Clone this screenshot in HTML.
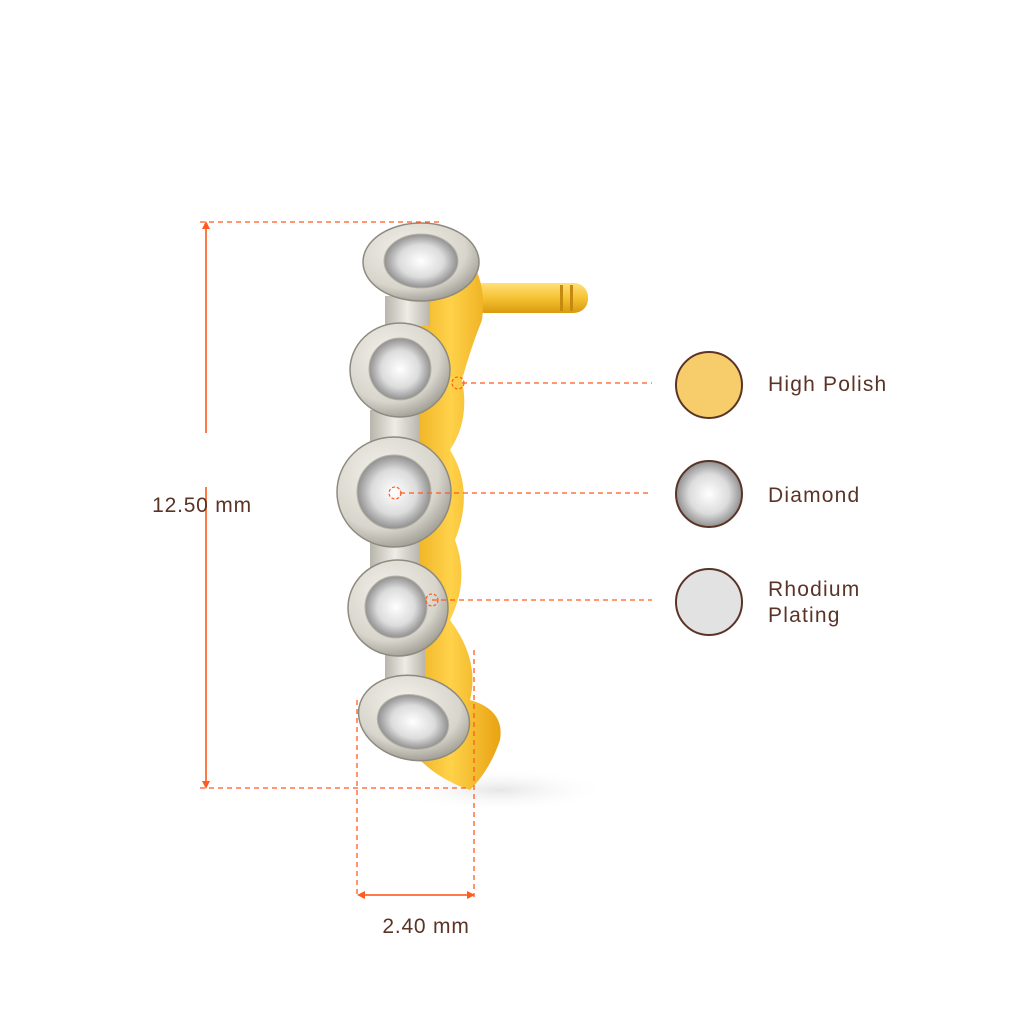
<!DOCTYPE html>
<html><head><meta charset="utf-8"><style>
html,body{margin:0;padding:0;background:#fff;}
svg{display:block;}
text{font-family:"Liberation Sans",sans-serif;fill:#5a3426;}
</style></head><body>
<svg width="1024" height="1024" viewBox="0 0 1024 1024" xmlns="http://www.w3.org/2000/svg">
<defs>
<linearGradient id="gold" x1="0" y1="0" x2="1" y2="0">
<stop offset="0" stop-color="#e9a514"/><stop offset="0.5" stop-color="#ffd24a"/><stop offset="1" stop-color="#e8a312"/></linearGradient>
<linearGradient id="post" x1="0" y1="0" x2="0" y2="1">
<stop offset="0" stop-color="#ffe07a"/><stop offset="0.5" stop-color="#f5c233"/><stop offset="1" stop-color="#d99a10"/></linearGradient>
<radialGradient id="metal" cx="0.4" cy="0.35" r="0.7">
<stop offset="0" stop-color="#f4f2ec"/><stop offset="0.7" stop-color="#d8d5cc"/><stop offset="1" stop-color="#9a978e"/></radialGradient>
<radialGradient id="dia" cx="0.5" cy="0.5" r="0.55">
<stop offset="0" stop-color="#ffffff"/><stop offset="0.55" stop-color="#dcdcdc"/><stop offset="1" stop-color="#7c7c7c"/></radialGradient>
<radialGradient id="ground" cx="0.5" cy="0.5" r="0.5">
<stop offset="0" stop-color="#e6e6e6"/><stop offset="1" stop-color="#ffffff" stop-opacity="0"/></radialGradient>
<linearGradient id="link" x1="0" y1="0" x2="1" y2="0">
<stop offset="0" stop-color="#b8b5ac"/><stop offset="0.5" stop-color="#eeece6"/><stop offset="1" stop-color="#b8b5ac"/></linearGradient>
</defs>
<ellipse cx="500" cy="790" rx="110" ry="22" fill="url(#ground)"/>
<rect x="470" y="283" width="118" height="30" rx="14" fill="url(#post)"/>
<rect x="560" y="285" width="3" height="26" fill="#c48a10"/>
<rect x="570" y="285" width="3" height="26" fill="#c48a10"/>
<path d="M440 235 Q490 260 482 320 Q470 350 462 380 Q470 420 450 450 Q475 490 455 540 Q470 580 450 620 Q480 660 470 700 Q505 710 500 740 Q490 770 470 790 Q440 780 420 760 L400 700 L420 240 Z" fill="url(#gold)"/>
<g>
<rect x="385" y="296" width="45" height="30" fill="url(#link)"/>
<rect x="370" y="410" width="50" height="34" fill="url(#link)"/>
<rect x="370" y="538" width="50" height="30" fill="url(#link)"/>
<rect x="385" y="648" width="40" height="32" fill="url(#link)"/>
<ellipse cx="421" cy="262" rx="58" ry="39" fill="url(#metal)" stroke="#8e8a80" stroke-width="1.5"/>
<ellipse cx="421" cy="261" rx="37" ry="27" fill="url(#dia)" stroke="#b9b4a5"/>
<ellipse cx="400" cy="370" rx="50" ry="47" fill="url(#metal)" stroke="#8e8a80" stroke-width="1.5"/>
<ellipse cx="400" cy="369" rx="31" ry="31" fill="url(#dia)" stroke="#b9b4a5"/>
<ellipse cx="394" cy="492" rx="57" ry="55" fill="url(#metal)" stroke="#8e8a80" stroke-width="1.5"/>
<ellipse cx="394" cy="492" rx="37" ry="37" fill="url(#dia)" stroke="#b9b4a5"/>
<ellipse cx="398" cy="608" rx="50" ry="48" fill="url(#metal)" stroke="#8e8a80" stroke-width="1.5"/>
<ellipse cx="396" cy="607" rx="31" ry="31" fill="url(#dia)" stroke="#b9b4a5"/>
<ellipse cx="414" cy="718" rx="56" ry="42" fill="url(#metal)" stroke="#8e8a80" stroke-width="1.5" transform="rotate(12 414 718)"/>
<ellipse cx="413" cy="722" rx="36" ry="27" fill="url(#dia)" stroke="#b9b4a5" transform="rotate(12 413 722)"/>
</g>
<g stroke="#ff5a1f" stroke-width="1.3" fill="none" stroke-dasharray="5,4">
<line x1="200" y1="222" x2="443" y2="222"/>
<line x1="200" y1="788" x2="470" y2="788"/>
<line x1="357" y1="700" x2="357" y2="897"/>
<line x1="474" y1="650" x2="474" y2="897"/>
<line x1="462" y1="383" x2="652" y2="383"/>
<line x1="400" y1="493" x2="652" y2="493"/>
<line x1="432" y1="600" x2="652" y2="600"/>
</g>
<g stroke="#ff5a1f" stroke-width="1.2" fill="none" stroke-dasharray="3,2">
<circle cx="458" cy="383" r="6"/>
<circle cx="395" cy="493" r="6"/>
<circle cx="432" cy="600" r="6"/>
</g>
<g stroke="#ff7a45" stroke-width="2">
<line x1="206" y1="226" x2="206" y2="433"/>
<line x1="206" y1="487" x2="206" y2="784"/>
<line x1="361" y1="895" x2="470" y2="895"/>
</g>
<g fill="#ff5a1f">
<path d="M206 221 L202 229 L210 229 Z"/>
<path d="M206 789 L202 781 L210 781 Z"/>
<path d="M357 895 L365 891 L365 899 Z"/>
<path d="M475 895 L467 891 L467 899 Z"/>
</g>
<text x="202" y="512" font-size="21" text-anchor="middle" letter-spacing="0.8">12.50 mm</text>
<text x="426" y="933" font-size="21" text-anchor="middle" letter-spacing="0.8">2.40 mm</text>
<circle cx="709" cy="385" r="33" fill="#f6cd6a" stroke="#5a3426" stroke-width="2"/>
<circle cx="709" cy="494" r="33" fill="url(#dia)" stroke="#5a3426" stroke-width="2"/>
<circle cx="709" cy="602" r="33" fill="#e2e2e2" stroke="#5a3426" stroke-width="2"/>
<text x="768" y="391" font-size="21" letter-spacing="1.2">High Polish</text>
<text x="768" y="502" font-size="21" letter-spacing="1.2">Diamond</text>
<text x="768" y="596" font-size="21" letter-spacing="1.2">Rhodium</text>
<text x="768" y="622" font-size="21" letter-spacing="1.2">Plating</text>
</svg>
</body></html>
